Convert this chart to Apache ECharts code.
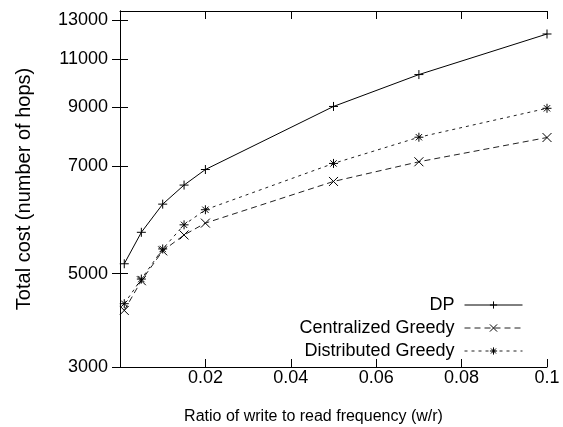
<!DOCTYPE html>
<html>
<head>
<meta charset="utf-8">
<script src="https://cdn.jsdelivr.net/npm/echarts@6/dist/echarts.min.js"></script>
<style>
html,body{margin:0;padding:0;background:#fff;}
#chart{width:563px;height:427px;}
</style>
</head>
<body>
<div id="chart"></div>
<script>
// Data
const ratios = [0.001, 0.005, 0.01, 0.015, 0.02, 0.05, 0.07, 0.1];
const dpCost = [4640, 5300, 5970, 6470, 6910, 9020, 10320, 12250];
const centralizedCost = [3810, 4320, 4900, 5240, 5510, 6570, 7140, 7910];
const distributedCost = [3920, 4350, 4940, 5470, 5830, 7090, 7920, 8950];
const seriesNames = ['DP', 'Centralized Greedy', 'Distributed Greedy'];
// y tick positions (log axis) and the labels printed at them in the reference
const yTickValues = [3000, 4450, 7000, 9000, 11000, 13000];
const yTickLabels = ['3000', '5000', '7000', '9000', '11000', '13000'];
const xTickValues = [0.02, 0.04, 0.06, 0.08, 0.1];

const FONT = 'Liberation Sans, Arial, Helvetica, sans-serif';
const pair = (xs, ys) => xs.map((x, i) => [x, ys[i]]);

const PLUS = 'path://M0,5L10,5M5,0L5,10';
const CROSS = 'path://M0,0L10,10M10,0L0,10';
const STAR = 'path://M0,5L10,5M5,0L5,10M1.5,1.5L8.5,8.5M8.5,1.5L1.5,8.5';

function yLabel(v) {
  const i = yTickValues.findIndex(t => Math.abs(t - v) < 1);
  return i >= 0 ? yTickLabels[i] : '';
}

const chart = echarts.init(document.getElementById('chart'), null, {renderer: 'canvas'});
const mkSeries = (name, data, symbol, lineType, color) => ({
  name: name,
  type: 'line',
  data: data,
  symbol: symbol,
  symbolSize: 9,
  showSymbol: true,
  showAllSymbol: true,
  itemStyle: {color: '#000', borderColor: '#000', borderWidth: 1},
  lineStyle: {color: color, width: 1, type: lineType},
  emphasis: {disabled: true}
});

chart.setOption({
  animation: false,
  backgroundColor: '#fff',
  textStyle: {fontFamily: FONT},
  grid: {left: 120, right: 16, top: 11, bottom: 60, containLabel: false, outerBoundsMode: 'none'},
  legend: {
    orient: 'vertical',
    align: 'right',
    right: 40,
    top: 296,
    padding: 0,
    itemWidth: 58,
    itemHeight: 9,
    itemGap: 5,
    data: seriesNames,
    itemStyle: {color: '#000', borderColor: '#000', borderWidth: 1},
    lineStyle: {width: 1},
    textStyle: {fontSize: 18, color: '#000', fontFamily: FONT, padding: [0, 5, 0, 0]}
  },
  xAxis: [{
    type: 'value',
    min: 0,
    max: 0.1,
    interval: 0.02,
    name: 'Ratio of write to read frequency (w/r)',
    nameLocation: 'middle',
    nameGap: 42,
    nameTextStyle: {fontSize: 16, color: '#000', fontFamily: FONT, padding: [0, 40, 0, 0]},
    axisLine: {show: true, lineStyle: {color: '#000', width: 1}},
    axisTick: {show: true, inside: true, length: 8, lineStyle: {color: '#000'}},
    axisLabel: {
      fontSize: 18, color: '#000', fontFamily: FONT, margin: 2,
      formatter: v => (xTickValues.some(t => Math.abs(t - v) < 1e-9) ? String(+v.toFixed(2)) : '')
    },
    splitLine: {show: false}
  }, {
    type: 'value',
    position: 'top',
    min: 0,
    max: 0.1,
    interval: 0.02,
    axisLine: {show: true, lineStyle: {color: '#000', width: 1}},
    axisTick: {show: true, inside: true, length: 8, lineStyle: {color: '#000'}},
    axisLabel: {show: false},
    splitLine: {show: false}
  }],
  yAxis: [{
    type: 'log',
    min: 3000,
    max: 13500,
    name: 'Total cost (number of hops)',
    nameLocation: 'middle',
    nameRotate: 90,
    nameGap: 86,
    nameTextStyle: {fontSize: 20, color: '#000', fontFamily: FONT},
    axisLine: {show: true, lineStyle: {color: '#000', width: 1}},
    axisTick: {show: true, inside: true, length: 8, lineStyle: {color: '#000'}, customValues: yTickValues},
    axisLabel: {fontSize: 18, color: '#000', fontFamily: FONT, margin: 12, customValues: yTickValues, formatter: yLabel},
    splitLine: {show: false},
    minorTick: {show: false}
  }, {
    type: 'log',
    position: 'right',
    min: 3000,
    max: 13500,
    axisLine: {show: true, lineStyle: {color: '#000', width: 1}},
    axisTick: {show: true, inside: true, length: 8, lineStyle: {color: '#000'}, customValues: yTickValues},
    axisLabel: {show: false},
    splitLine: {show: false}
  }],
  series: [
    mkSeries(seriesNames[0], pair(ratios, dpCost), PLUS, 'solid', '#000'),
    mkSeries(seriesNames[1], pair(ratios, centralizedCost), CROSS, [6, 4], '#222'),
    mkSeries(seriesNames[2], pair(ratios, distributedCost), STAR, [3, 4], '#222')
  ]
});
</script>
</body>
</html>
